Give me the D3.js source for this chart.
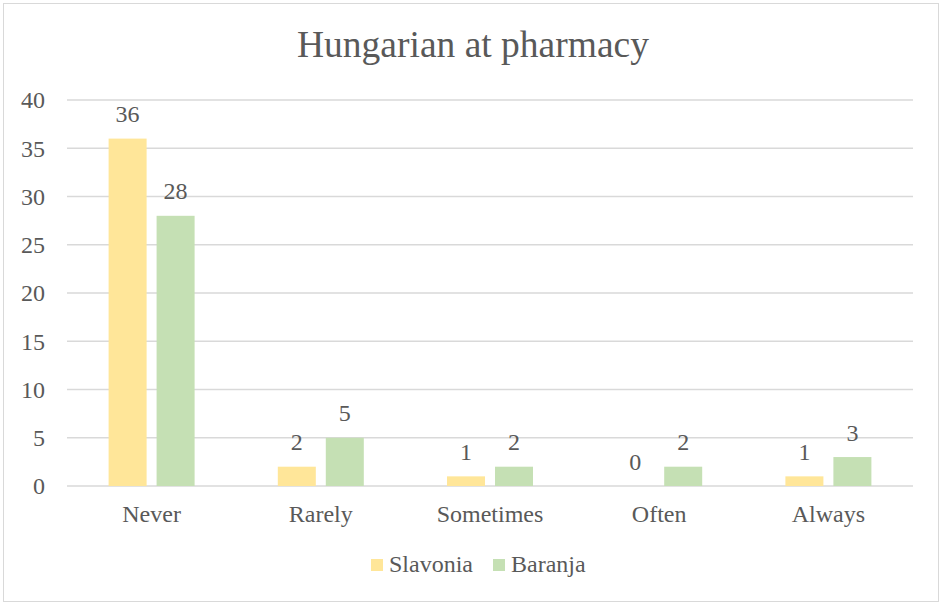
<!doctype HTML>
<html>
<head>
    <style>
        body { margin: 0; background: #fff; }
        text { font-family: "Liberation Serif", "Times New Roman", serif; fill: #595959; }
    </style>
    <script src="https://d3js.org/d3.v7.min.js"></script>
</head>
<body>
<div id="barChart"></div>
<script>

    // chart data
    var categories = ["Never", "Rarely", "Sometimes", "Often", "Always"];
    var seriesNames = ["Slavonia", "Baranja"];
    var slavonia = [36, 2, 1, 0, 1];
    var baranja = [28, 5, 2, 2, 3];
    var yTicks = [0, 5, 10, 15, 20, 25, 30, 35, 40];
    var colors = ["#FFE699", "#C5E0B4"];

    var canvasWidth = 942;
    var canvasHeight = 604;
    var plotLeft = 67, plotRight = 913, plotTop = 100, plotBottom = 486;
    var fontSize = "24px";

    var svg = d3.select("#barChart").append("svg")
        .attr("width", canvasWidth)
        .attr("height", canvasHeight);

    // outer chart border
    svg.append("rect")
        .attr("x", 3.5)
        .attr("y", 3.5)
        .attr("width", 935)
        .attr("height", 598)
        .attr("fill", "none")
        .attr("stroke", "#d9d9d9")
        .attr("stroke-width", 1);

    // title
    svg.append("text")
        .attr("x", 473)
        .attr("y", 57)
        .attr("text-anchor", "middle")
        .attr("font-size", "37.5px")
        .text("Hungarian at pharmacy");

    var x = d3.scaleBand()
        .domain(categories)
        .range([plotLeft, plotRight])
        .padding(0);

    var bw = x.bandwidth();
    var xSub = d3.scaleBand()
        .domain(seriesNames)
        .range([bw / 2 - 43, bw / 2 + 43])
        .paddingInner(0.208);

    var y = d3.scaleLinear()
        .domain([0, 40])
        .range([plotBottom, plotTop]);

    // gridlines
    svg.append("g")
        .selectAll("line")
        .data(yTicks)
        .join("line")
        .attr("x1", plotLeft)
        .attr("x2", plotRight)
        .attr("y1", d => y(d))
        .attr("y2", d => y(d))
        .attr("stroke", "#d9d9d9")
        .attr("stroke-width", 1.3);

    // y axis labels
    var yAxis = svg.append("g")
        .attr("transform", "translate(" + (plotLeft - 22) + ",0)")
        .call(d3.axisLeft(y).tickValues(yTicks).tickSize(0).tickPadding(0));
    yAxis.select(".domain").remove();
    yAxis.selectAll("text")
        .attr("font-size", fontSize)
        .attr("font-family", "Liberation Serif")
        .attr("fill", "#595959")
        .attr("dy", "0.33em");

    // x axis labels
    var xAxis = svg.append("g")
        .attr("transform", "translate(0," + plotBottom + ")")
        .call(d3.axisBottom(x).tickSize(0).tickPadding(0));
    xAxis.select(".domain").remove();
    xAxis.selectAll("text")
        .attr("font-size", fontSize)
        .attr("font-family", "Liberation Serif")
        .attr("fill", "#595959")
        .attr("dy", "36px");

    var rows = categories.map(function(c, i) {
        return {cat: c, values: [
            {key: seriesNames[0], value: slavonia[i], color: colors[0]},
            {key: seriesNames[1], value: baranja[i], color: colors[1]}
        ]};
    });

    var groups = svg.append("g")
        .selectAll("g")
        .data(rows)
        .join("g")
        .attr("transform", d => "translate(" + x(d.cat) + ",0)");

    groups.selectAll("rect")
        .data(d => d.values)
        .join("rect")
        .attr("x", d => xSub(d.key))
        .attr("y", d => y(d.value))
        .attr("width", xSub.bandwidth())
        .attr("height", d => plotBottom - y(d.value))
        .attr("fill", d => d.color);

    // value labels
    groups.selectAll("text.val")
        .data(d => d.values)
        .join("text")
        .attr("class", "val")
        .attr("x", d => xSub(d.key) + xSub.bandwidth() / 2)
        .attr("y", d => y(d.value) - 16.5)
        .attr("text-anchor", "middle")
        .attr("font-size", fontSize)
        .text(d => d.value);

    // legend
    var legendX = [371, 493];
    var legend = svg.append("g")
        .selectAll("g")
        .data(seriesNames)
        .join("g")
        .attr("transform", (d, i) => "translate(" + legendX[i] + ",559)");
    legend.append("rect")
        .attr("width", 12)
        .attr("height", 12)
        .attr("fill", (d, i) => colors[i]);
    legend.append("text")
        .attr("x", 18)
        .attr("y", 13)
        .attr("font-size", fontSize)
        .text(d => d);

</script>
</body>
</html>
